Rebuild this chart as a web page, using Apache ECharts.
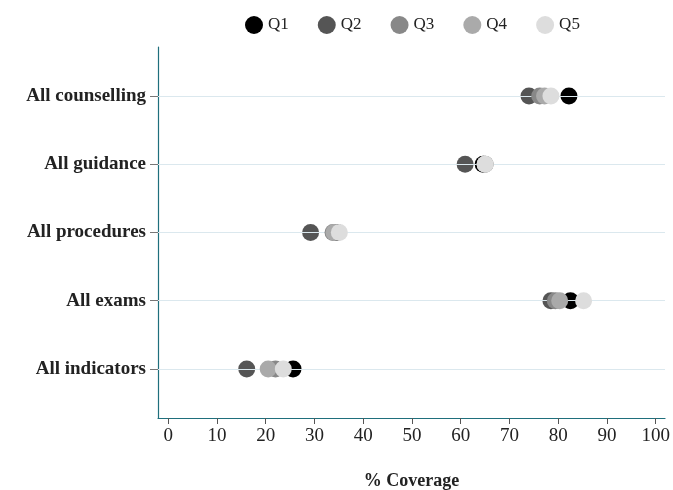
<!DOCTYPE html>
<html><head><meta charset="utf-8">
<script src="https://cdn.jsdelivr.net/npm/echarts@6/dist/echarts.min.js"></script>
<style>html,body{margin:0;padding:0;background:#fff}#c{width:673px;height:490px}</style>
</head><body><div id="c"></div>
<script>
var categories = ['All counselling','All guidance','All procedures','All exams','All indicators'];
var seriesNames = ['Q1','Q2','Q3','Q4','Q5'];
var q1 = [82.2, 64.6, 34.6, 82.5, 25.6];
var q2 = [74.0, 60.9, 29.2, 78.5, 16.1];
var q3 = [76.2, 65.0, 33.8, 79.4, 22.0];
var q4 = [77.2, 65.0, 34.0, 80.3, 20.5];
var q5 = [78.5, 65.0, 35.1, 85.2, 23.6];
var xTicks = [0,10,20,30,40,50,60,70,80,90,100];
var colors = ['#000000','#555555','#888888','#aaaaaa','#dddddd'];
var allValues = [q1,q2,q3,q4,q5];
var catIdx = categories.map(function(c,i){return i+1;});

var font = 'Liberation Serif';
var series = seriesNames.map(function(n,k){
  return {
    name: n, type: 'scatter', symbol: 'circle', symbolSize: 17, z: 3+k,
    itemStyle: {color: colors[k], opacity: 1},
    data: allValues[k].map(function(v,i){return [v, catIdx[i]];})
  };
});
series.unshift({
  type: 'scatter', name: 'grid', data: [], z: 1, silent: true,
  markLine: {silent: true, symbol: 'none', label: {show: false},
    lineStyle: {color: '#dbe8ee', width: 1, type: 'solid'},
    data: catIdx.map(function(i){return {yAxis: i};})}
});

var chart = echarts.init(document.getElementById('c'));
chart.setOption({
  animation: false,
  backgroundColor: '#fff',
  textStyle: {fontFamily: font},
  legend: {
    data: seriesNames, top: 11, left: 240, icon: 'circle', itemWidth: 18, itemHeight: 18,
    itemGap: 29, textStyle: {fontFamily: font, fontSize: 17, color: '#222'}
  },
  grid: {left: 158, right: 8, top: 47, bottom: 72, containLabel: false, outerBoundsMode: 'none'},
  xAxis: {
    type: 'value', min: -2.1, max: 101.9,
    name: '% Coverage', nameLocation: 'middle', nameGap: 54,
    nameTextStyle: {fontFamily: font, fontSize: 18, fontWeight: 'bold', color: '#222'},
    axisLine: {show: true, onZero: false, lineStyle: {color: '#1f6f7c', width: 1.2}},
    axisTick: {show: true, length: 6, lineStyle: {color: '#555'}, customValues: xTicks},
    axisLabel: {fontFamily: font, fontSize: 19, color: '#222', margin: 9, customValues: xTicks},
    splitLine: {show: false}
  },
  yAxis: {
    type: 'value', inverse: true, min: 0.28, max: 5.72,
    axisLine: {show: true, onZero: false, lineStyle: {color: '#1f6f7c', width: 1.2}},
    axisTick: {show: true, length: 8, lineStyle: {color: '#777'}, customValues: catIdx},
    axisLabel: {fontFamily: font, fontSize: 19, fontWeight: 'bold', color: '#222', margin: 12,
      customValues: catIdx,
      formatter: function(v){ return categories[Math.round(v)-1] || ''; }},
    splitLine: {show: false}
  },
  series: series
});
</script></body></html>
